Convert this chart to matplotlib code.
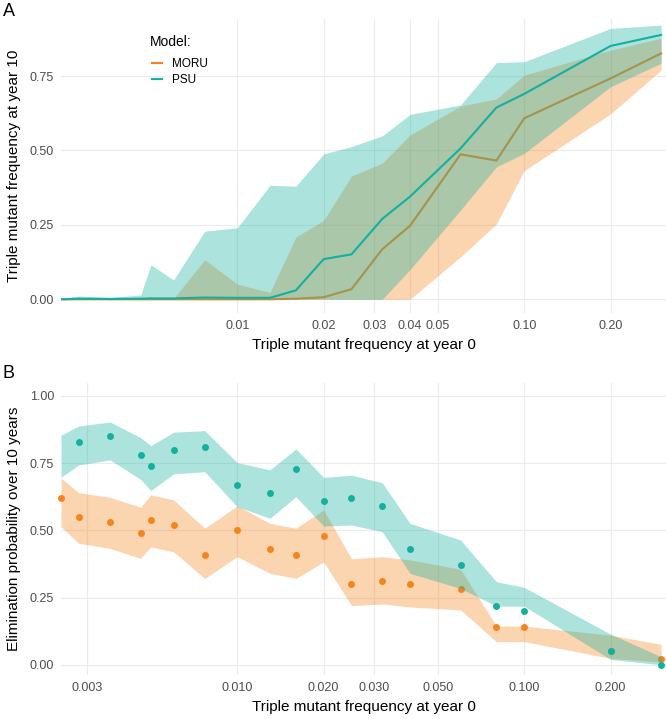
import numpy as np
import matplotlib
matplotlib.use("Agg")
from matplotlib import pyplot as plt
from matplotlib.ticker import FixedLocator, FixedFormatter, NullLocator

# starting triple mutant frequencies (shared by both panels)
freq = [0.00243, 0.0028, 0.0036, 0.0046, 0.005, 0.006, 0.0077, 0.01, 0.013, 0.016,
        0.02, 0.025, 0.032, 0.04, 0.06, 0.08, 0.1, 0.2, 0.3]

# panel A: triple mutant frequency at year 10 (median + band)
moru_med = [0.0, 0.0, 0.0, 0.0, 0.0, 0.0, 0.0, 0.0, 0.0, 0.002,
            0.007, 0.034, 0.168, 0.247, 0.487, 0.466, 0.608, 0.742, 0.826]
moru_lo = [0.0, 0.0, 0.0, 0.0, 0.0, 0.0, 0.0, 0.0, 0.0, 0.0,
           0.0, 0.0, 0.0, 0.0, 0.143, 0.253, 0.432, 0.623, 0.77]
moru_hi = [0.0, 0.0, 0.0, 0.0, 0.0, 0.003, 0.133, 0.051, 0.023, 0.209,
           0.265, 0.414, 0.457, 0.552, 0.649, 0.673, 0.753, 0.837, 0.877]
psu_med = [0.0, 0.002, 0.001, 0.002, 0.003, 0.003, 0.006, 0.005, 0.005, 0.03,
           0.135, 0.151, 0.27, 0.345, 0.507, 0.644, 0.69, 0.851, 0.888]
psu_lo = [0.0, 0.0, 0.0, 0.0, 0.0, 0.0, 0.0, 0.0, 0.0, 0.0,
          0.0, 0.0, 0.0, 0.10, 0.30, 0.445, 0.49, 0.714, 0.793]
psu_hi = [0.003, 0.011, 0.007, 0.014, 0.116, 0.065, 0.229, 0.240, 0.383, 0.38,
          0.488, 0.513, 0.549, 0.621, 0.653, 0.795, 0.798, 0.910, 0.921]

# panel B: elimination probability over 10 years (estimate + band)
moru_elim = [0.62, 0.55, 0.53, 0.49, 0.54, 0.52, 0.41, 0.50, 0.43, 0.41,
             0.48, 0.30, 0.31, 0.30, 0.28, 0.14, 0.14, 0.05, 0.02]
moru_elim_lo = [0.514, 0.452, 0.433, 0.396, 0.439, 0.42, 0.321, 0.402, 0.34, 0.321,
                0.383, 0.22, 0.226, 0.215, 0.204, 0.086, 0.086, 0.024, 0.01]
moru_elim_hi = [0.694, 0.64, 0.623, 0.586, 0.632, 0.613, 0.508, 0.591, 0.526, 0.508,
                0.576, 0.394, 0.402, 0.39, 0.355, 0.144, 0.144, 0.11, 0.076]
psu_elim = [np.nan, 0.83, 0.85, 0.78, 0.74, 0.80, 0.81, 0.67, 0.64, 0.73,
            0.61, 0.62, 0.59, 0.43, 0.37, 0.22, 0.20, 0.05, 0.00]
psu_elim_lo = [0.697, 0.743, 0.762, 0.69, 0.648, 0.71, 0.718, 0.588, 0.545, 0.625,
               0.516, 0.52, 0.495, 0.34, 0.284, 0.218, 0.218, 0.02, 0.0]
psu_elim_hi = [0.854, 0.888, 0.903, 0.845, 0.815, 0.865, 0.871, 0.752, 0.725, 0.803,
               0.697, 0.705, 0.677, 0.526, 0.464, 0.309, 0.288, 0.114, 0.03]

models = ["MORU", "PSU"]
colors = {"MORU": "#F5841F", "PSU": "#13B09F"}

a_ticks = [0.01, 0.02, 0.03, 0.04, 0.05, 0.1, 0.2]
a_tick_labels = ["0.01", "0.02", "0.03", "0.04", "0.05", "0.10", "0.20"]
b_ticks = [0.003, 0.01, 0.02, 0.03, 0.05, 0.1, 0.2]
b_tick_labels = ["0.003", "0.010", "0.020", "0.030", "0.050", "0.100", "0.200"]

plt.rcParams["font.family"] = ["Liberation Sans", "DejaVu Sans"]

GRID = "#EBEBEB"
TICK = "#4D4D4D"


def style_axis(ax, xticks, xlabels, yticks, ylabels):
    ax.set_xscale("log")
    ax.set_xlim(0.00243, 0.312)
    ax.xaxis.set_major_locator(FixedLocator(xticks))
    ax.xaxis.set_major_formatter(FixedFormatter(xlabels))
    ax.xaxis.set_minor_locator(NullLocator())
    ax.set_yticks(yticks)
    ax.set_yticklabels(ylabels)
    for s in ax.spines.values():
        s.set_visible(False)
    ax.grid(True, color=GRID, linewidth=0.8)
    ax.set_axisbelow(True)
    ax.tick_params(length=0, labelsize=9, labelcolor=TICK, pad=5)


fig = plt.figure(figsize=(6.66, 7.19), dpi=100)

# ---- panel A
axA = fig.add_axes([61 / 666, 1 - 313 / 719, 1 - 61 / 666, 294 / 719])
axA.fill_between(freq, moru_lo, moru_hi, color=colors["MORU"], alpha=0.35, lw=0, zorder=1)
axA.plot(freq, moru_med, color=colors["MORU"], lw=1.5, zorder=2)
axA.fill_between(freq, psu_lo, psu_hi, color=colors["PSU"], alpha=0.35, lw=0, zorder=3)
axA.plot(freq, psu_med, color=colors["PSU"], lw=1.5, zorder=4)
axA.set_ylim(-0.046, 0.9415)
style_axis(axA, a_ticks, a_tick_labels, [0, 0.25, 0.5, 0.75], ["0.00", "0.25", "0.50", "0.75"])
axA.set_xlabel("Triple mutant frequency at year 0", fontsize=11, labelpad=4)
axA.set_ylabel("Triple mutant frequency at year 10", fontsize=11, labelpad=6)

# legend: title as separate text so its gap to the keys can be matched
axA.text(0.147, 0.922, "Model:", transform=axA.transAxes, fontsize=10,
         ha="left", va="center")
leg_moru = plt.Line2D([], [], color=colors["MORU"], lw=1.5)
leg_psu = plt.Line2D([], [], color=colors["PSU"], lw=1.5)
axA.legend([leg_moru, leg_psu], models, loc="upper left",
           bbox_to_anchor=(0.150, 0.866), frameon=False, fontsize=8.5,
           handlelength=0.9, handletextpad=0.8, labelspacing=0.3, borderpad=0,
           borderaxespad=0)

# ---- panel B
axB = fig.add_axes([61 / 666, 1 - 675 / 719, 1 - 61 / 666, 292 / 719])
axB.fill_between(freq, moru_elim_lo, moru_elim_hi, color=colors["MORU"], alpha=0.35, lw=0, zorder=1)
axB.plot(freq, moru_elim, "o", color=colors["MORU"], ms=5, mec="none", zorder=2, clip_on=False)
axB.fill_between(freq, psu_elim_lo, psu_elim_hi, color=colors["PSU"], alpha=0.35, lw=0, zorder=3)
axB.plot(freq, psu_elim, "o", color=colors["PSU"], ms=5, mec="none", zorder=4, clip_on=False)
axB.set_ylim(-0.038, 1.048)
style_axis(axB, b_ticks, b_tick_labels, [0, 0.25, 0.5, 0.75, 1.0],
           ["0.00", "0.25", "0.50", "0.75", "1.00"])
axB.set_xlabel("Triple mutant frequency at year 0", fontsize=11, labelpad=4)
axB.set_ylabel("Elimination probability over 10 years", fontsize=11, labelpad=6)

fig.text(0.004, 1 - 12 / 719, "A", fontsize=13, va="center", ha="left")
fig.text(0.004, 1 - 373 / 719, "B", fontsize=13, va="center", ha="left")

fig.savefig("out.png", dpi=100)
